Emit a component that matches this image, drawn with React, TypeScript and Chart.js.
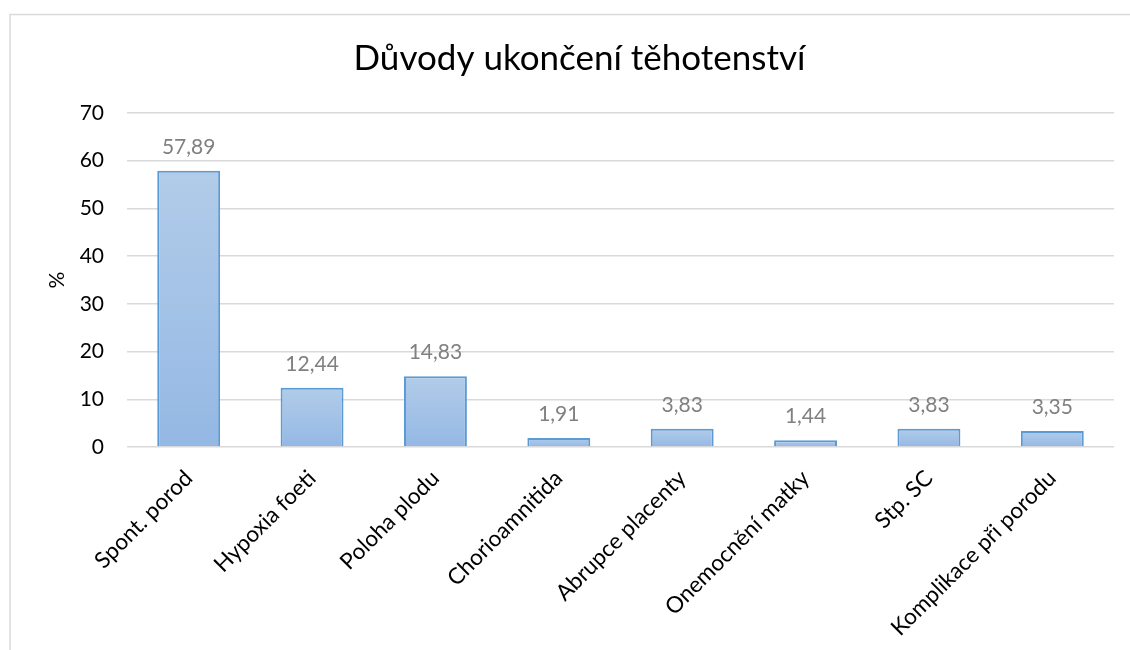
import React, { useEffect, useRef } from "react";
import { Chart, registerables } from "chart.js";

Chart.register(...registerables);

const categories = [
  "Spont. porod",
  "Hypoxia foeti",
  "Poloha plodu",
  "Chorioamnitida",
  "Abrupce placenty",
  "Onemocnění matky",
  "Stp. SC",
  "Komplikace při porodu",
];
const values = [57.89, 12.44, 14.83, 1.91, 3.83, 1.44, 3.83, 3.35];
const yMin = 0;
const yMax = 70;
const yStep = 10;
const chartTitle = "Důvody ukončení těhotenství";
const yAxisTitle = "%";

const FONT = "Lato";

const frame = {
  id: "frame",
  beforeDraw(chart: any) {
    const ctx = chart.ctx;
    ctx.save();
    ctx.fillStyle = "#ffffff";
    ctx.fillRect(0, 0, chart.width, chart.height);
    ctx.strokeStyle = "#d9d9d9";
    ctx.lineWidth = 1.5;
    ctx.strokeRect(10, 14.5, 3000, 3000);
    ctx.restore();
  },
};

const dataLabels = {
  id: "dataLabels",
  afterDatasetsDraw(chart: any) {
    const ctx = chart.ctx;
    const meta = chart.getDatasetMeta(0);
    ctx.save();
    ctx.font = `21px ${FONT}`;
    ctx.fillStyle = "#808080";
    ctx.textAlign = "center";
    ctx.textBaseline = "alphabetic";
    meta.data.forEach((bar: any, i: number) => {
      const v = chart.data.datasets[0].data[i] as number;
      ctx.fillText(v.toFixed(2).replace(".", ","), bar.x, bar.y - 17);
    });
    ctx.restore();
  },
};

export default function App() {
  const ref = useRef<HTMLCanvasElement | null>(null);

  useEffect(() => {
    if (!ref.current) return;
    const chart = new Chart(ref.current, {
      type: "bar",
      data: {
        labels: categories,
        datasets: [
          {
            data: values,
            backgroundColor: (c: any) => {
              const { ctx, chartArea, scales } = c.chart;
              if (!chartArea || c.type !== "data" || !scales.y) return "#a6c3e8";
              const top = scales.y.getPixelForValue(c.parsed.y);
              const bot = scales.y.getPixelForValue(0);
              if (!isFinite(top) || !isFinite(bot) || top === bot) return "#a6c3e8";
              const g = ctx.createLinearGradient(0, top, 0, bot);
              g.addColorStop(0, "#b2cce9");
              g.addColorStop(1, "#94b8e4");
              return g;
            },
            borderColor: "#5b9bd5",
            borderWidth: 2,
            categoryPercentage: 1,
            barPercentage: 0.51,
          },
        ],
      },
      options: {
        responsive: false,
        animation: false,
        layout: { padding: { left: 45, right: 16, top: 0, bottom: 0 } },
        plugins: {
          legend: { display: false },
          tooltip: { enabled: false },
          title: {
            display: true,
            text: chartTitle,
            color: "#000000",
            font: { family: FONT, size: 35, weight: "normal" },
            padding: { top: 38, bottom: 33 },
          },
        },
        scales: {
          x: {
            grid: { display: false },
            border: { display: false },
            ticks: {
              color: "#000000",
              font: { family: FONT, size: 22.5 },
              minRotation: 45,
              maxRotation: 45,
              autoSkip: false,
              padding: 10,
            },
            afterFit: (s: any) => {
              s.height = 203;
            },
          },
          y: {
            min: yMin,
            max: yMax,
            grid: { color: "#d9d9d9", lineWidth: 1.5, drawTicks: false },
            border: { display: false },
            ticks: {
              stepSize: yStep,
              color: "#000000",
              font: { family: FONT, size: 21 },
              padding: 23,
            },
            title: {
              display: true,
              text: yAxisTitle,
              color: "#000000",
              font: { family: FONT, size: 21 },
              padding: 0,
            },
            afterFit: (s: any) => {
              s.width = 82;
            },
          },
        },
      },
      plugins: [frame, dataLabels],
    });
    return () => chart.destroy();
  }, []);

  return (
    <div style={{ position: "fixed", left: 0, top: 0, width: 1130, height: 650, overflow: "hidden", background: "#fff" }}>
      <canvas ref={ref} width={1130} height={650} style={{ display: "block" }} />
    </div>
  );
}
